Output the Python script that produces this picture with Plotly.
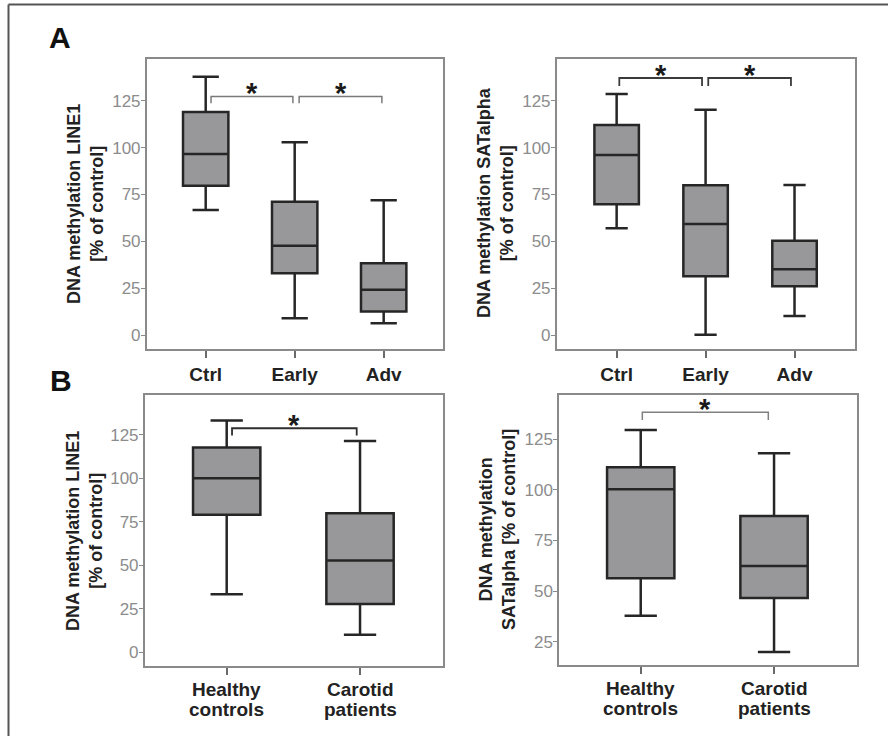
import plotly.graph_objects as go

# ---------------- data ----------------
a_cats = ["Ctrl", "Early", "Adv"]
b_cats = ["Healthy controls", "Carotid patients"]

a_line1_low = [66.8, 9.0, 6.4]
a_line1_q1 = [79.7, 33.0, 12.6]
a_line1_med = [96.6, 47.7, 24.3]
a_line1_q3 = [119.0, 71.2, 38.4]
a_line1_high = [137.8, 102.8, 71.9]

a_sat_low = [57.0, 0.3, 10.3]
a_sat_q1 = [69.8, 31.4, 26.1]
a_sat_med = [96.1, 59.3, 35.2]
a_sat_q3 = [112.0, 79.9, 50.4]
a_sat_high = [128.6, 120.2, 80.1]

b_line1_low = [33.4, 10.1]
b_line1_q1 = [79.1, 27.8]
b_line1_med = [100.1, 52.7]
b_line1_q3 = [117.7, 79.9]
b_line1_high = [133.2, 121.5]

b_sat_low = [37.8, 19.9]
b_sat_q1 = [56.3, 46.5]
b_sat_med = [100.3, 62.4]
b_sat_q3 = [111.2, 87.1]
b_sat_high = [129.6, 118.1]

# significance brackets: (from position, to position, height, drop)
a_line1_sig = [(0.06, 0.98, 127.3, 3.7), (1.05, 1.98, 127.3, 3.7)]
a_sat_sig = [(0.03, 0.96, 137.1, 4.3), (1.03, 1.96, 137.1, 4.3)]
b_line1_sig = [(0.04, 0.975, 128.8, 4.2)]
b_sat_sig = [(0.012, 0.957, 138.3, 3.8)]

a_ticks = [0, 25, 50, 75, 100, 125]
b_sat_ticks = [25, 50, 75, 100, 125]

# ---------------- layout helpers ----------------
W, H = 888, 736
FONT = "Liberation Sans, Arial, sans-serif"
BOX_FILL = "#98989b"
BOX_LINE = "#262626"
FRAME = "#8a8a8a"

def px_x(p):
    return p / W

def px_y(p):
    return 1 - p / H

panels = [
    dict(cats=a_cats, two_line=False, low=a_line1_low, q1=a_line1_q1, med=a_line1_med, q3=a_line1_q3,
         high=a_line1_high, sig=a_line1_sig, ticks=a_ticks, xdom=(146.7, 443.3), ydom=(58.7, 349.3),
         xr=[-0.663, 2.67], yr=[-7.5, 147.4], bw=0.51, ww=0.58, sigcol="#7a7a7a", sigw=1.5,
         title="DNA methylation LINE1<br>[% of control]", tpos=(85, 204)),
    dict(cats=a_cats, two_line=False, low=a_sat_low, q1=a_sat_q1, med=a_sat_med, q3=a_sat_q3,
         high=a_sat_high, sig=a_sat_sig, ticks=a_ticks, xdom=(556.7, 855.0), ydom=(58.7, 349.3),
         xr=[-0.674, 2.68], yr=[-7.5, 147.4], bw=0.50, ww=0.5, sigcol="#3a3a3a", sigw=1.8,
         title="DNA methylation SATalpha<br>[% of control]", tpos=(496, 202)),
    dict(cats=b_cats, two_line=True, low=b_line1_low, q1=b_line1_q1, med=b_line1_med, q3=b_line1_q3,
         high=b_line1_high, sig=b_line1_sig, ticks=a_ticks, xdom=(144.7, 442.7), ydom=(394.7, 666.0),
         xr=[-0.615, 1.62], yr=[-7.9, 148.1], bw=0.505, ww=0.48, sigcol="#2e2e2e", sigw=1.8,
         title="DNA methylation LINE1<br>[% of control]", tpos=(84, 531)),
    dict(cats=b_cats, two_line=True, low=b_sat_low, q1=b_sat_q1, med=b_sat_med, q3=b_sat_q3,
         high=b_sat_high, sig=b_sat_sig, ticks=b_sat_ticks, xdom=(559.0, 856.7), ydom=(394.7, 665.3),
         xr=[-0.613, 1.62], yr=[13.3, 147.0], bw=0.505, ww=0.48, sigcol="#808080", sigw=1.5,
         title="DNA methylation<br>SATalpha [% of control]", tpos=(497, 530)),
]

fig = go.Figure()
shapes = []
annotations = []

for i, p in enumerate(panels, start=1):
    xa = "x" if i == 1 else f"x{i}"
    ya = "y" if i == 1 else f"y{i}"
    xpos = list(range(len(p["cats"])))
    fig.add_trace(go.Box(
        x=xpos, q1=p["q1"], median=p["med"], q3=p["q3"],
        lowerfence=p["low"], upperfence=p["high"],
        boxpoints=False, width=p["bw"], whiskerwidth=p["ww"],
        fillcolor=BOX_FILL, line=dict(color=BOX_LINE, width=2.5),
        xaxis=xa, yaxis=ya, showlegend=False, hoverinfo="skip",
    ))
    axis_x = dict(
        domain=[px_x(p["xdom"][0]), px_x(p["xdom"][1])],
        range=p["xr"], tickmode="array", tickvals=xpos,
        ticktext=p["cats"], showticklabels=not p["two_line"],
        showline=True, mirror=True, linecolor=FRAME, linewidth=1.5,
        ticks="outside", ticklen=7, tickwidth=1.5, tickcolor="#6a6a6a",
        tickfont=dict(family=FONT, size=19, color="#222222", weight="bold"),
        showgrid=False, zeroline=False, anchor=ya,
    )
    axis_y = dict(
        domain=[px_y(p["ydom"][1]), px_y(p["ydom"][0])],
        range=p["yr"], tickmode="array", tickvals=p["ticks"],
        showline=True, mirror=True, linecolor=FRAME, linewidth=1.5,
        ticks="outside", ticklen=4, tickwidth=1.2, tickcolor="#8a8a8a",
        ticklabelstandoff=-3,
        tickfont=dict(family=FONT, size=17, color="#8c8c8c"),
        showgrid=False, zeroline=False, anchor=xa,
    )
    key = "" if i == 1 else str(i)
    fig.update_layout(**{f"xaxis{key}": axis_x, f"yaxis{key}": axis_y})

    if p["two_line"]:
        for xi, cat in zip(xpos, p["cats"]):
            for li, word in enumerate(cat.split(" ")):
                annotations.append(dict(
                    x=xi, xref=xa, y=px_y(p["ydom"][1]), yref="paper",
                    text=f"<b>{word}</b>", showarrow=False,
                    xanchor="center", yanchor="middle", yshift=-23 - 20 * li,
                    font=dict(family=FONT, size=19, color="#222222"),
                ))

    for (x0, x1, yb, drop) in p["sig"]:
        shapes.append(dict(
            type="path", xref=xa, yref=ya,
            path=f"M {x0},{yb - drop} L {x0},{yb} L {x1},{yb} L {x1},{yb - drop}",
            line=dict(color=p["sigcol"], width=p["sigw"]),
        ))
        annotations.append(dict(
            x=(x0 + x1) / 2, y=yb, xref=xa, yref=ya, text="<b>*</b>",
            showarrow=False, xanchor="center", yanchor="middle", yshift=3,
            font=dict(family=FONT, size=29, color="#1a1a1a"),
        ))

    annotations.append(dict(
        x=px_x(p["tpos"][0]), y=px_y(p["tpos"][1]), xref="paper", yref="paper",
        text=f"<b>{p['title']}</b>", textangle=-90, showarrow=False,
        xanchor="center", yanchor="middle",
        font=dict(family=FONT, size=18, color="#222222"),
    ))

# panel letters
annotations.append(dict(x=px_x(60), y=px_y(38), xref="paper", yref="paper", text="<b>A</b>",
                        showarrow=False, xanchor="center", yanchor="middle",
                        font=dict(family=FONT, size=30, color="#111111")))
annotations.append(dict(x=px_x(61), y=px_y(380), xref="paper", yref="paper", text="<b>B</b>",
                        showarrow=False, xanchor="center", yanchor="middle",
                        font=dict(family=FONT, size=30, color="#111111")))

# outer frame (open at right and bottom, as cropped)
shapes.append(dict(type="line", xref="paper", yref="paper", x0=px_x(8.5), x1=1.0,
                   y0=px_y(4.5), y1=px_y(4.5), line=dict(color="#555555", width=2)))
shapes.append(dict(type="line", xref="paper", yref="paper", x0=px_x(8.5), x1=px_x(8.5),
                   y0=px_y(4.5), y1=0.0, line=dict(color="#555555", width=2)))

fig.update_layout(
    width=W, height=H, margin=dict(l=0, r=0, t=0, b=0),
    paper_bgcolor="white", plot_bgcolor="white",
    shapes=shapes, annotations=annotations, showlegend=False,
)

fig.write_html("out.html")
